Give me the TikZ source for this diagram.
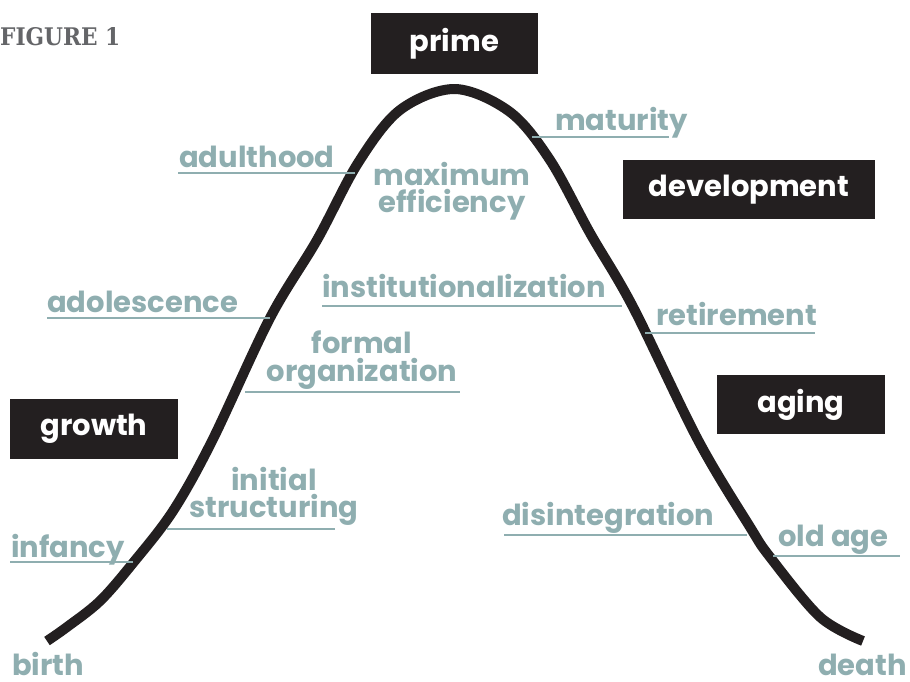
\documentclass[tikz,border=0pt]{standalone}
\usepackage{fontspec}
\usepackage{graphicx}
\setmainfont{Poppins}
\newfontfamily\figfont{DejaVu Serif}
\definecolor{lab}{RGB}{143,174,176}
\definecolor{boxc}{RGB}{35,31,32}
\definecolor{figc}{RGB}{100,101,104}
\begin{document}
\begin{tikzpicture}[x=1pt,y=-1pt,
  lbl/.style={text=lab, font=\fontsize{29}{27.5}\selectfont\bfseries, inner sep=0pt},
  blk/.style={fill=boxc, text=white, font=\fontsize{29}{27}\selectfont\bfseries, inner sep=0pt},
  uline/.style={draw=lab, line width=2.5pt},
  lifecurve/.style={draw=boxc, line width=10pt}]
\useasboundingbox (0,0) rectangle (910,681);

% title
\node[anchor=base west, inner sep=0pt, text=figc] (fig) at (0,45) {\resizebox{120pt}{18pt}{\figfont\bfseries FIGURE 1}};

% black stage boxes
\node[blk, minimum width=167pt, minimum height=61pt] (prime) at (454.5,43.5) {prime};
\node[blk, minimum width=252pt, minimum height=59pt] (development) at (749,189.5) {development};
\node[blk, minimum width=168pt, minimum height=60pt] (growth) at (94,429) {growth};
\node[blk, minimum width=168pt, minimum height=59pt] (aging) at (801,404.5) {aging};

% curve
\draw[lifecurve] plot[smooth, tension=0.55] coordinates {
  (47,641) (67,627) (100,601) (133,563) (173,511) (212,441) (270,318)
  (317,240) (358,163) (400,110) (455,89) (510,112) (550,160) (590,233)
  (633,307) (698,440) (750,527) (770,557) (820,617) (863,641)};

% labels
\node[lbl, anchor=base west] (adulthood) at (179,167) {adulthood};
\node[lbl, anchor=base west] (maturity) at (555,130) {maturity};
\node[lbl, anchor=north, align=center] (maxeff) at (452,162) {maximum\\efficiency};
\node[lbl, anchor=base west] (adolescence) at (47,312) {adolescence};
\node[lbl, anchor=base west] (institution) at (322,297) {institutionalization};
\node[lbl, anchor=base west] (retirement) at (656,325) {retirement};
\node[lbl, anchor=north, align=center] (formal) at (362,331) {formal\\organization};
\node[lbl, anchor=north, align=center] (initial) at (274,467) {initial\\structuring};
\node[lbl, anchor=base west] (infancy) at (11,557) {infancy};
\node[lbl, anchor=base west] (disint) at (502,525) {disintegration};
\node[lbl, anchor=base west] (oldage) at (778,546) {old age};
\node[lbl, anchor=base west] (birth) at (12,675) {birth};
\node[lbl, anchor=base east] (death) at (907,675) {death};

% underline coordinates
\coordinate (u1a) at (178,173); \coordinate (u1b) at (355,173);
\coordinate (u2a) at (532,137); \coordinate (u2b) at (669,137);
\coordinate (u3a) at (47,318);  \coordinate (u3b) at (270,318);
\coordinate (u4a) at (322,306); \coordinate (u4b) at (622,306);
\coordinate (u5a) at (645,333); \coordinate (u5b) at (815,333);
\coordinate (u6a) at (245,392); \coordinate (u6b) at (460,392);
\coordinate (u7a) at (167,529); \coordinate (u7b) at (335,529);
\coordinate (u8a) at (10,562);  \coordinate (u8b) at (133,562);
\coordinate (u9a) at (504,535); \coordinate (u9b) at (747,535);
\coordinate (u10a) at (773,556); \coordinate (u10b) at (900,556);
\foreach \i in {1,...,10} \draw[uline] (u\i a) -- (u\i b);
\end{tikzpicture}
\end{document}
